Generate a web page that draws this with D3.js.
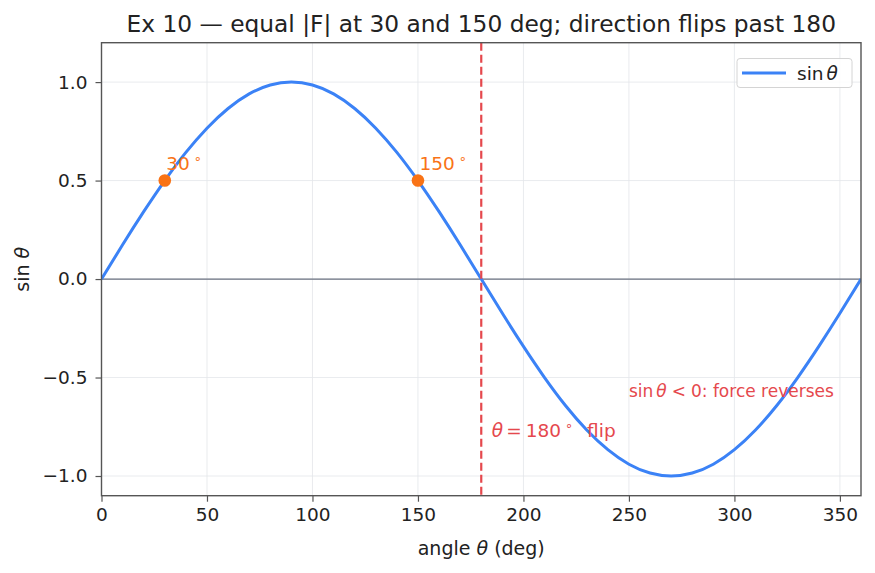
<!DOCTYPE html>
<html>
<head>
<meta charset="utf-8">
<script src="https://cdn.jsdelivr.net/npm/d3@7"></script>
<style>
  body { margin: 0; background: #fff; }
  text { font-family: "DejaVu Sans", sans-serif; }
</style>
</head>
<body>
<div id="canvas"></div>
<script>
"use strict"

// sin(theta) read every 10 degrees off the curve
let angles = [0, 10, 20, 30, 40, 50, 60, 70, 80, 90, 100, 110, 120, 130, 140, 150, 160, 170, 180,
    190, 200, 210, 220, 230, 240, 250, 260, 270, 280, 290, 300, 310, 320, 330, 340, 350, 360];
let sinValues = [0, 0.174, 0.342, 0.5, 0.643, 0.766, 0.866, 0.940, 0.985, 1.0, 0.985, 0.940, 0.866, 0.766, 0.643, 0.5, 0.342, 0.174, 0,
    -0.174, -0.342, -0.5, -0.643, -0.766, -0.866, -0.940, -0.985, -1.0, -0.985, -0.940, -0.866, -0.766, -0.643, -0.5, -0.342, -0.174, 0];

// the two marked angles
let markAngles = [30, 150];
let markValues = [0.5, 0.5];
let markLabels = ["30", "150"];

let flipAngle = 180;

let xTicks = [0, 50, 100, 150, 200, 250, 300, 350];
let yTicks = [-1.0, -0.5, 0.0, 0.5, 1.0];

let svgWidth = 875;
let svgHeight = 573;
let plotLeft = 101.5, plotRight = 861, plotTop = 42.7, plotBottom = 495.7;

let blue = "#3b82f6";
let orange = "#f97316";
let red = "#e5484d";
let ink = "#222";

let svg = d3.select("#canvas")
    .append("svg")
    .attr("width", svgWidth)
    .attr("height", svgHeight);

let xScale = d3.scaleLinear().domain([0, 360]).range([plotLeft, plotRight]);
let yScale = d3.scaleLinear().domain([-1.1, 1.2]).range([plotBottom, plotTop]);

/* grid */
let grid = svg.append("g");
grid.selectAll(".gx")
    .data(xTicks)
    .join("line")
    .attr("class", "gx")
    .attr("x1", d => xScale(d)).attr("x2", d => xScale(d))
    .attr("y1", plotTop).attr("y2", plotBottom)
    .attr("stroke", "#e3e6ea").attr("stroke-width", 0.8);
grid.selectAll(".gy")
    .data(yTicks)
    .join("line")
    .attr("class", "gy")
    .attr("x1", plotLeft).attr("x2", plotRight)
    .attr("y1", d => yScale(d)).attr("y2", d => yScale(d))
    .attr("stroke", "#e3e6ea").attr("stroke-width", 0.8);

/* zero line */
svg.append("line")
    .attr("x1", plotLeft).attr("x2", plotRight)
    .attr("y1", yScale(0)).attr("y2", yScale(0))
    .attr("stroke", "#6b7280").attr("stroke-width", 1.3);

/* sine curve */
let points = angles.map((a, i) => [a, sinValues[i]]);
let line = d3.line()
    .x(d => xScale(d[0]))
    .y(d => yScale(d[1]))
    .curve(d3.curveNatural);

svg.append("clipPath").attr("id", "plotclip")
    .append("rect").attr("x", plotLeft).attr("y", plotTop)
    .attr("width", plotRight - plotLeft).attr("height", plotBottom - plotTop);

svg.append("path")
    .datum(points)
    .attr("d", line)
    .attr("fill", "none")
    .attr("stroke", blue)
    .attr("stroke-width", 3)
    .attr("clip-path", "url(#plotclip)");

/* flip line */
svg.append("line")
    .attr("x1", xScale(flipAngle)).attr("x2", xScale(flipAngle))
    .attr("y1", plotTop).attr("y2", plotBottom)
    .attr("stroke", red).attr("stroke-width", 2.2)
    .attr("stroke-dasharray", "8,4");

/* marked points */
svg.selectAll(".mark")
    .data(markAngles)
    .join("circle")
    .attr("class", "mark")
    .attr("cx", d => xScale(d))
    .attr("cy", (d, i) => yScale(markValues[i]))
    .attr("r", 6.3)
    .attr("fill", orange);

let markText = svg.selectAll(".marktext")
    .data(markAngles)
    .join("text")
    .attr("class", "marktext")
    .attr("x", d => xScale(d) + 1.5)
    .attr("y", (d, i) => yScale(markValues[i]) - 11)
    .attr("font-size", 18.5)
    .attr("fill", orange);
markText.append("tspan").text((d, i) => markLabels[i]);
markText.append("tspan").attr("dx", 4).attr("dy", -7).attr("font-size", 13).text("\u2218");

/* annotations */
let flipText = svg.append("text")
    .attr("x", xScale(185))
    .attr("y", yScale(-0.8))
    .attr("font-size", 18.5)
    .attr("fill", red);
flipText.append("tspan").attr("font-style", "italic").text("\u03b8");
flipText.append("tspan").attr("dx", 3).text("=");
flipText.append("tspan").attr("dx", 4).text("180");
flipText.append("tspan").attr("dx", 4).attr("dy", -7).attr("font-size", 13).text("\u2218");
flipText.append("tspan").attr("dx", 14).attr("dy", 7).text("flip");

let revText = svg.append("text")
    .attr("x", xScale(250))
    .attr("y", yScale(-0.6))
    .attr("font-size", 17)
    .attr("fill", red);
revText.append("tspan").text("sin");
revText.append("tspan").attr("dx", 3).attr("font-style", "italic").text("\u03b8");
revText.append("tspan").attr("dx", 5).text("<");
revText.append("tspan").attr("dx", 5).text("0: force reverses");

/* axes */
let xAxis = svg.append("g")
    .attr("transform", "translate(0," + plotBottom + ")")
    .call(d3.axisBottom(xScale).tickValues(xTicks).tickSize(6).tickPadding(6).tickFormat(d3.format("d")));
let yAxis = svg.append("g")
    .attr("transform", "translate(" + plotLeft + ",0)")
    .call(d3.axisLeft(yScale).tickValues(yTicks).tickSize(6).tickPadding(8)
        .tickFormat(d => d3.format(".1f")(d).replace("-", "\u2212")));

[xAxis, yAxis].forEach(ax => {
    ax.select(".domain").remove();
    ax.selectAll("line").attr("stroke", "#555").attr("stroke-width", 1.2);
    ax.selectAll("text").attr("font-size", 18.5).attr("fill", ink)
        .attr("font-family", "DejaVu Sans, sans-serif");
});

/* frame */
svg.append("rect")
    .attr("x", plotLeft).attr("y", plotTop)
    .attr("width", plotRight - plotLeft).attr("height", plotBottom - plotTop)
    .attr("fill", "none").attr("stroke", "#555").attr("stroke-width", 1.4);

/* labels */
let xLabel = svg.append("text")
    .attr("x", (plotLeft + plotRight) / 2)
    .attr("y", 555)
    .attr("text-anchor", "middle")
    .attr("font-size", 19)
    .attr("fill", ink);
xLabel.append("tspan").text("angle ");
xLabel.append("tspan").attr("font-style", "italic").text("\u03b8");
xLabel.append("tspan").text(" (deg)");

let yLabel = svg.append("text")
    .attr("transform", "translate(29," + ((plotTop + plotBottom) / 2) + ") rotate(-90)")
    .attr("text-anchor", "middle")
    .attr("font-size", 19)
    .attr("fill", ink);
yLabel.append("tspan").text("sin ");
yLabel.append("tspan").attr("font-style", "italic").text("\u03b8");

svg.append("text")
    .attr("x", (plotLeft + plotRight) / 2)
    .attr("y", 31.5)
    .attr("text-anchor", "middle")
    .attr("font-size", 23.3)
    .attr("fill", ink)
    .text("Ex 10 \u2014 equal |F| at 30 and 150 deg; direction flips past 180");

/* legend */
let legend = svg.append("g");
legend.append("rect")
    .attr("x", 737).attr("y", 58.5)
    .attr("width", 115).attr("height", 29)
    .attr("rx", 3)
    .attr("fill", "#fff").attr("fill-opacity", 0.85)
    .attr("stroke", "#d4d4d4");
legend.append("line")
    .attr("x1", 742).attr("x2", 786)
    .attr("y1", 73).attr("y2", 73)
    .attr("stroke", blue).attr("stroke-width", 3);
let legText = legend.append("text")
    .attr("x", 797).attr("y", 79.5)
    .attr("font-size", 18.5)
    .attr("fill", ink);
legText.append("tspan").text("sin");
legText.append("tspan").attr("dx", 3).attr("font-style", "italic").text("\u03b8");
</script>
</body>
</html>
